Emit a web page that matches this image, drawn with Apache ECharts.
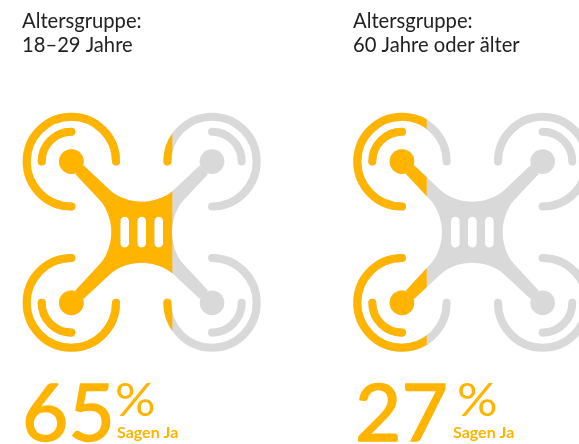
<!DOCTYPE html>
<html><head><meta charset="utf-8">
<style>html,body{margin:0;padding:0;background:#fff}#c{width:579px;height:444px}</style>
<script src="https://cdn.jsdelivr.net/npm/echarts@6/dist/echarts.min.js"></script>
</head><body><div id="c"></div>
<script>
const headingLine = 'Altersgruppe:';
const ageGroups = ['18–29 Jahre', '60 Jahre oder älter'];
const yesShares = [65, 27];
const answerLabel = 'Sagen Ja';

const ORANGE = '#FFB400', GRAY = '#D9D9D9', INK = '#222222';
const UNITS = 714;
// Each grid spans the 0–100 % range; the drone glyph overhangs it on both sides.
const gridLefts = [42, 372.6];
const gridWidth = 200.46, gridTop = 112.7, gridHeight = 239;
const OVERHANG = 9.63, GLYPH_SPAN = 118.73;

// Drone glyph in its own 714-unit box, centre at 357,357
const C = 357, hubOff = 211, R1 = 134, R2 = 89;
function pt(dx, dy) { return (C + dx) + ' ' + (C + dy); }
function bodyPath() {
  let d = 'M' + pt(0,-91);
  d += ' C' + pt(30,-91) + ' ' + pt(71,-102) + ' ' + pt(96,-126);
  d += ' L' + pt(174,-199) + ' L' + pt(199,-174) + ' L' + pt(126,-96);
  d += ' C' + pt(102,-71) + ' ' + pt(91,-30) + ' ' + pt(91,0);
  d += ' C' + pt(91,30) + ' ' + pt(102,71) + ' ' + pt(126,96);
  d += ' L' + pt(199,174) + ' L' + pt(174,199) + ' L' + pt(96,126);
  d += ' C' + pt(71,102) + ' ' + pt(30,91) + ' ' + pt(0,91);
  d += ' C' + pt(-30,91) + ' ' + pt(-71,102) + ' ' + pt(-96,126);
  d += ' L' + pt(-174,199) + ' L' + pt(-199,174) + ' L' + pt(-126,96);
  d += ' C' + pt(-102,71) + ' ' + pt(-91,30) + ' ' + pt(-91,0);
  d += ' C' + pt(-91,-30) + ' ' + pt(-102,-71) + ' ' + pt(-126,-96);
  d += ' L' + pt(-199,-174) + ' L' + pt(-174,-199) + ' L' + pt(-96,-126);
  d += ' C' + pt(-71,-102) + ' ' + pt(-30,-91) + ' ' + pt(0,-91) + ' Z';
  [-51, 0, 51].forEach(function (x) {
    const r = 13, t = -33, b = 33;
    d += ' M' + pt(x - r, t) + ' L' + pt(x - r, b);
    d += ' A' + r + ' ' + r + ' 0 0 0 ' + pt(x + r, b);
    d += ' L' + pt(x + r, t);
    d += ' A' + r + ' ' + r + ' 0 0 0 ' + pt(x - r, t) + ' Z';
  });
  return d;
}
function rotorPaths(sx, sy) {
  const cx = C + sx * hubOff, cy = C + sy * hubOff;
  const innerSweep = (sx * sy > 0) ? 1 : 0;
  const outerSweep = 1 - innerSweep;
  const outerA = (cx - sx * R1) + ' ' + cy, outerB = cx + ' ' + (cy - sy * R1);
  const innerA = (cx + sx * R2) + ' ' + cy, innerB = cx + ' ' + (cy + sy * R2);
  const outer = 'M' + outerA + ' A' + R1 + ' ' + R1 + ' 0 1 ' + outerSweep + ' ' + outerB;
  const inner = 'M' + innerA + ' A' + R2 + ' ' + R2 + ' 0 0 ' + innerSweep + ' ' + innerB;
  return { outer: outer, inner: inner, cx: cx, cy: cy };
}
function droneChildren(color) {
  const kids = [{ type: 'path', shape: { pathData: bodyPath() }, style: { fill: color } }];
  [[-1,-1],[1,-1],[-1,1],[1,1]].forEach(function (s) {
    const r = rotorPaths(s[0], s[1]);
    [r.outer, r.inner].forEach(function (p) {
      kids.push({ type: 'path', shape: { pathData: p },
        style: { fill: 'none', stroke: color, lineWidth: 24, lineCap: 'round' } });
    });
    kids.push({ type: 'circle', shape: { cx: r.cx, cy: r.cy, r: 37 }, style: { fill: color } });
  });
  return kids;
}
function renderDrone(params, api) {
  const val = api.value(0);
  const cs = params.coordSys;
  const perUnit = cs.width / 100;
  const boxX = cs.x - OVERHANG * perUnit, boxW = GLYPH_SPAN * perUnit;
  const sx = boxW / UNITS, sy = cs.height / UNITS;
  const cut = api.coord([val, 0])[0];
  function layer(color, clip) {
    const g = { type: 'group', children: [{
      type: 'group', x: boxX, y: cs.y, scaleX: sx, scaleY: sy, children: droneChildren(color)
    }] };
    if (clip) g.clipPath = { type: 'rect', shape: { x: boxX - 5, y: cs.y - 5, width: cut - boxX + 5, height: cs.height + 10 } };
    return g;
  }
  return { type: 'group', children: [layer(GRAY, false), layer(ORANGE, true)] };
}

const texts = [];
const headX = [22, 353], pctX = [115, 457], sagenX = [117, 453], numX = [22, 355];
yesShares.forEach(function (v, i) {
  texts.push({ type: 'text', x: headX[i], y: 9, style: { text: headingLine + '\n' + ageGroups[i], fill: INK, font: '400 20.2px Lato', lineHeight: 24 } });
  texts.push({ type: 'text', x: numX[i], y: 375, style: { text: String(v), fill: ORANGE, stroke: ORANGE, lineWidth: 1.5, font: '400 80px Lato' } });
  texts.push({ type: 'text', x: pctX[i], y: 378, scaleX: 1.1, style: { text: '%', fill: ORANGE, font: '400 46px Lato' } });
  texts.push({ type: 'text', x: sagenX[i], y: 425, style: { text: answerLabel, fill: ORANGE, font: '700 16px Lato' } });
});

const option = {
  animation: false,
  backgroundColor: '#fff',
  grid: gridLefts.map(function (l) { return { left: l, top: gridTop, width: gridWidth, height: gridHeight }; }),
  xAxis: gridLefts.map(function (l, i) { return { type: 'value', gridIndex: i, min: 0, max: 100, show: false }; }),
  yAxis: gridLefts.map(function (l, i) { return { type: 'category', gridIndex: i, data: [ageGroups[i]], show: false }; }),
  series: yesShares.map(function (v, i) {
    return { type: 'custom', name: ageGroups[i], xAxisIndex: i, yAxisIndex: i, clip: false, silent: true,
      encode: { x: 0, y: 1 }, renderItem: renderDrone, data: [[v, 0]] };
  }),
  graphic: texts
};
echarts.init(document.getElementById('c')).setOption(option);
</script></body></html>
